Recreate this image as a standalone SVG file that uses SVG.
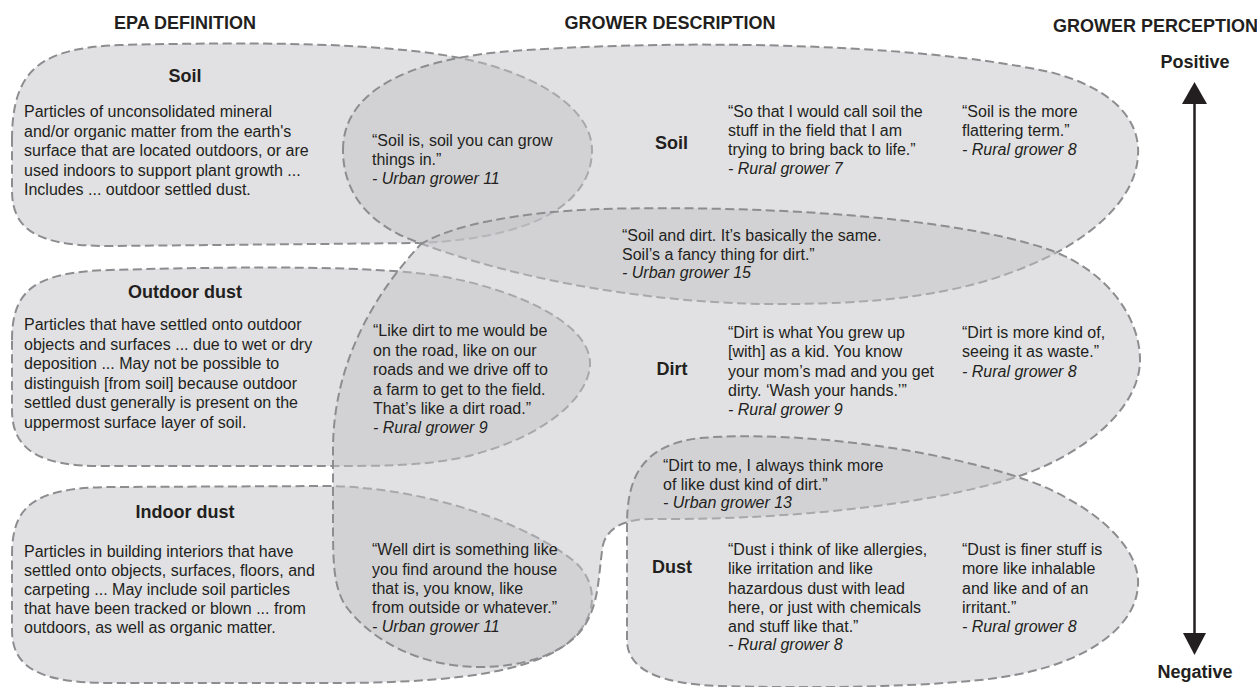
<svg xmlns="http://www.w3.org/2000/svg" width="1257" height="687" viewBox="0 0 1257 687">
<defs>
<style>
.shape{fill:#c3c4c7;fill-opacity:0.5;stroke:#8c8d8f;stroke-width:2;stroke-dasharray:9 4.5}
text{font-family:"Liberation Sans",Arial,Helvetica,sans-serif;fill:#231f20}
.h{font-size:18px;font-weight:bold}
.b{font-size:16px}
.i{font-size:16px;font-style:italic}
.arrow{stroke:#231f20;stroke-width:2.5;fill:none}
.head{fill:#231f20}
</style>
</defs>
<rect x="0" y="0" width="1257" height="687" fill="#ffffff"/>

<g id="shapes">
<g id="epa-soil-shape"><path class="shape" d="M12,140 C12,70 40,48 120,45 C250,42 380,42 460,58 C540,74 592,110 592,150 C592,200 540,238 420,243 L110,246 C40,246 12,232 12,190 Z"/></g>
<g id="epa-outdoor-shape"><path class="shape" d="M12,340 C12,290 35,272 110,270 C250,266 380,266 440,276 C520,290 592,325 590,365 C588,400 540,440 460,458 C420,466 380,466 330,466 L100,466 C40,466 12,450 12,410 Z"/></g>
<g id="epa-indoor-shape"><path class="shape" d="M12,555 C12,505 35,488 110,487 L330,486 C430,488 530,525 575,562 C600,585 598,620 565,645 C520,678 420,683 330,683 L110,683 C40,683 12,668 12,630 Z"/></g>
<g id="grower-soil-shape"><path class="shape" d="M343,150 C343,95 400,62 500,52 C650,40 900,40 1050,72 C1120,90 1140,125 1138,155 C1136,200 1090,240 1030,265 C960,295 880,305 760,304 C600,300 470,265 400,235 C360,215 343,185 343,150 Z"/></g>
<g id="grower-dirt-shape"><path class="shape" d="M420,245 C450,225 520,212 600,209 C750,205 950,215 1050,250 C1110,272 1140,320 1140,360 C1140,410 1080,460 1000,482 C900,510 760,520 650,519 C625,519 607,528 603,545 C598,575 600,600 585,625 C570,650 530,667 480,667 C420,667 370,640 345,605 C333,585 333,560 333,520 L333,450 C333,380 360,310 420,245 Z"/></g>
<g id="grower-dust-shape"><path class="shape" d="M627,640 L627,525 C627,480 640,445 700,438 C800,430 950,450 1040,485 C1110,515 1140,555 1138,585 C1136,630 1080,670 980,680 C900,688 800,688 720,686 C660,684 627,670 627,640 Z"/></g>
</g>

<g id="connectors">
<line class="arrow" x1="1194.5" y1="100" x2="1194.5" y2="637"/>
<polygon class="head" points="1194.5,82 1182,104 1207,104"/>
<polygon class="head" points="1183,633 1206,633 1194.5,655"/>
</g>

<g id="headers">
<text class="h" x="185" y="29" text-anchor="middle">EPA DEFINITION</text>
<text class="h" x="670" y="29" text-anchor="middle">GROWER DESCRIPTION</text>
<text class="h" x="1053" y="32">GROWER PERCEPTION</text>
<text class="h" x="1195" y="68" text-anchor="middle">Positive</text>
<text class="h" x="1195" y="678" text-anchor="middle">Negative</text>
</g>

<g id="epa-soil">
<text class="h" x="185" y="82" text-anchor="middle">Soil</text>
<text class="b" x="24" y="117">Particles of unconsolidated mineral</text>
<text class="b" x="24" y="136.5">and/or organic matter from the earth's</text>
<text class="b" x="24" y="156">surface that are located outdoors, or are</text>
<text class="b" x="24" y="175.5">used indoors to support plant growth ...</text>
<text class="b" x="24" y="195">Includes ... outdoor settled dust.</text>
</g>

<g id="epa-outdoor-dust">
<text class="h" x="185" y="298" text-anchor="middle">Outdoor dust</text>
<text class="b" x="24" y="330">Particles that have settled onto outdoor</text>
<text class="b" x="24" y="349.5">objects and surfaces ... due to wet or dry</text>
<text class="b" x="24" y="369">deposition ... May not be possible to</text>
<text class="b" x="24" y="388.5">distinguish [from soil] because outdoor</text>
<text class="b" x="24" y="408">settled dust generally is present on the</text>
<text class="b" x="24" y="427.5">uppermost surface layer of soil.</text>
</g>

<g id="epa-indoor-dust">
<text class="h" x="185" y="518" text-anchor="middle">Indoor dust</text>
<text class="b" x="24" y="556.5">Particles in building interiors that have</text>
<text class="b" x="24" y="575.5">settled onto objects, surfaces, floors, and</text>
<text class="b" x="24" y="594.5">carpeting ... May include soil particles</text>
<text class="b" x="24" y="613.5">that have been tracked or blown ... from</text>
<text class="b" x="24" y="632.5">outdoors, as well as organic matter.</text>
</g>

<g id="quote-soil-urban11">
<text class="b" x="372" y="146">“Soil is, soil you can grow</text>
<text class="b" x="372" y="165">things in.”</text>
<text class="i" x="372" y="184">- Urban grower 11</text>
</g>

<g id="grower-soil">
<text class="h" x="671.5" y="149" text-anchor="middle">Soil</text>
<text class="b" x="728" y="117">“So that I would call soil the</text>
<text class="b" x="728" y="136">stuff in the field that I am</text>
<text class="b" x="728" y="155">trying to bring back to life.”</text>
<text class="i" x="728" y="174">- Rural grower 7</text>
<text class="b" x="962" y="117">“Soil is the more</text>
<text class="b" x="962" y="136">flattering term.”</text>
<text class="i" x="962" y="155">- Rural grower 8</text>
</g>

<g id="quote-soil-dirt-urban15">
<text class="b" x="622" y="241">“Soil and dirt. It’s basically the same.</text>
<text class="b" x="622" y="260">Soil’s a fancy thing for dirt.”</text>
<text class="i" x="622" y="278">- Urban grower 15</text>
</g>

<g id="quote-dirt-rural9">
<text class="b" x="373" y="336">“Like dirt to me would be</text>
<text class="b" x="373" y="355.5">on the road, like on our</text>
<text class="b" x="373" y="375">roads and we drive off to</text>
<text class="b" x="373" y="394.5">a farm to get to the field.</text>
<text class="b" x="373" y="414">That’s like a dirt road.”</text>
<text class="i" x="373" y="433">- Rural grower 9</text>
</g>

<g id="grower-dirt">
<text class="h" x="672" y="375" text-anchor="middle">Dirt</text>
<text class="b" x="728" y="338">“Dirt is what You grew up</text>
<text class="b" x="728" y="357">[with] as a kid. You know</text>
<text class="b" x="728" y="376.5">your mom’s mad and you get</text>
<text class="b" x="728" y="396">dirty. ‘Wash your hands.’”</text>
<text class="i" x="728" y="414.5">- Rural grower 9</text>
<text class="b" x="962" y="338">“Dirt is more kind of,</text>
<text class="b" x="962" y="357">seeing it as waste.”</text>
<text class="i" x="962" y="376.5">- Rural grower 8</text>
</g>

<g id="quote-dirt-dust-urban13">
<text class="b" x="663" y="471">“Dirt to me, I always think more</text>
<text class="b" x="663" y="490">of like dust kind of dirt.”</text>
<text class="i" x="663" y="508">- Urban grower 13</text>
</g>

<g id="quote-dirt-urban11">
<text class="b" x="372" y="555">“Well dirt is something like</text>
<text class="b" x="372" y="574.5">you find around the house</text>
<text class="b" x="372" y="593.5">that is, you know, like</text>
<text class="b" x="372" y="613">from outside or whatever.”</text>
<text class="i" x="372" y="632">- Urban grower 11</text>
</g>

<g id="grower-dust">
<text class="h" x="672" y="573" text-anchor="middle">Dust</text>
<text class="b" x="728" y="555">“Dust i think of like allergies,</text>
<text class="b" x="728" y="574">like irritation and like</text>
<text class="b" x="728" y="593.5">hazardous dust with lead</text>
<text class="b" x="728" y="613">here, or just with chemicals</text>
<text class="b" x="728" y="632">and stuff like that.”</text>
<text class="i" x="728" y="650">- Rural grower 8</text>
<text class="b" x="962" y="555">“Dust is finer stuff is</text>
<text class="b" x="962" y="574">more like inhalable</text>
<text class="b" x="962" y="593.5">and like and of an</text>
<text class="b" x="962" y="613">irritant.”</text>
<text class="i" x="962" y="632">- Rural grower 8</text>
</g>
</svg>
